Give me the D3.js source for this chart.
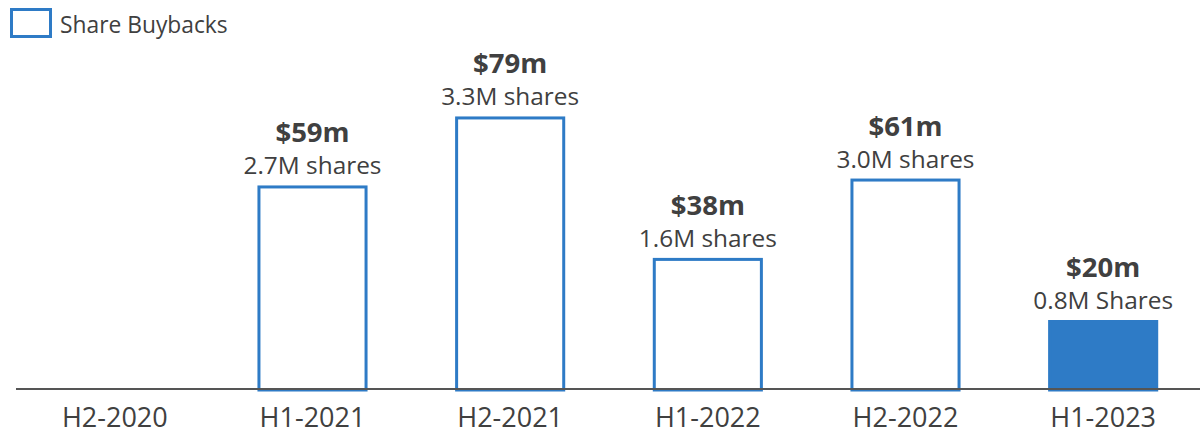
<!DOCTYPE html>
<html><head><meta charset="utf-8">
<script src="https://cdn.jsdelivr.net/npm/d3@7"></script>
<style>body{margin:0;background:#fff}svg{display:block;font-family:"Open Sans",sans-serif}</style>
</head><body><svg id="c" width="1200" height="435"></svg>
<script>
const categories = ["H2-2020","H1-2021","H2-2021","H1-2022","H2-2022","H1-2023"];
const values = [null, 59, 79, 38, 61, 20];
const valueLabels = ["", "$59m", "$79m", "$38m", "$61m", "$20m"];
const shareLabels = ["", "2.7M shares", "3.3M shares", "1.6M shares", "3.0M shares", "0.8M Shares"];
const filled = [false, false, false, false, false, true];
const seriesName = "Share Buybacks";

const blue = "#2e7bc6", text = "#404040";
const svg = d3.select("#c");
const x = d3.scaleBand().domain(categories).range([16, 1202]).paddingInner(0.443).paddingOuter(0.2215);
const y = d3.scaleLinear().domain([0, 80]).range([389, 113]);
const data = categories.map((c,i)=>({c, v: values[i], vl: valueLabels[i], sl: shareLabels[i], f: filled[i]}));
const bars = data.filter(d=>d.v!=null);

svg.selectAll("rect.bar").data(bars).join("rect").attr("class","bar")
  .attr("x", d=>x(d.c)+1.5).attr("width", x.bandwidth()-3)
  .attr("y", d=>y(d.v)+1.5).attr("height", d=>y(0)-y(d.v)-0.5)
  .attr("fill", d=>d.f?blue:"#fff").attr("stroke", blue).attr("stroke-width",3);

const axis = d3.axisBottom(x).tickSize(0).tickPadding(0);
const g = svg.append("g").attr("transform","translate(0,389)").call(axis);
g.select(".domain").attr("stroke","#555").attr("stroke-width",2).attr("d","M16,0H1200");
g.selectAll("text").attr("font-size",27).attr("fill",text).attr("font-family","'Open Sans',sans-serif")
  .attr("dy",null).attr("y",38);

svg.selectAll("text.val").data(bars).join("text").attr("class","val")
  .attr("x", d=>x(d.c)+x.bandwidth()/2).attr("y", d=>y(d.v)-43)
  .attr("text-anchor","middle").attr("font-size",27.5).attr("font-weight",700).attr("fill",text).text(d=>d.vl);
svg.selectAll("text.sh").data(bars).join("text").attr("class","sh")
  .attr("x", d=>x(d.c)+x.bandwidth()/2).attr("y", d=>y(d.v)-11)
  .attr("text-anchor","middle").attr("font-size",24.4).attr("fill",text).text(d=>d.sl);

svg.append("rect").attr("x",11.5).attr("y",9.5).attr("width",39).attr("height",27)
  .attr("fill","#fff").attr("stroke",blue).attr("stroke-width",3);
svg.append("text").attr("x",60).attr("y",33).attr("font-size",22.8).attr("fill",text).text(seriesName);
</script></body></html>
